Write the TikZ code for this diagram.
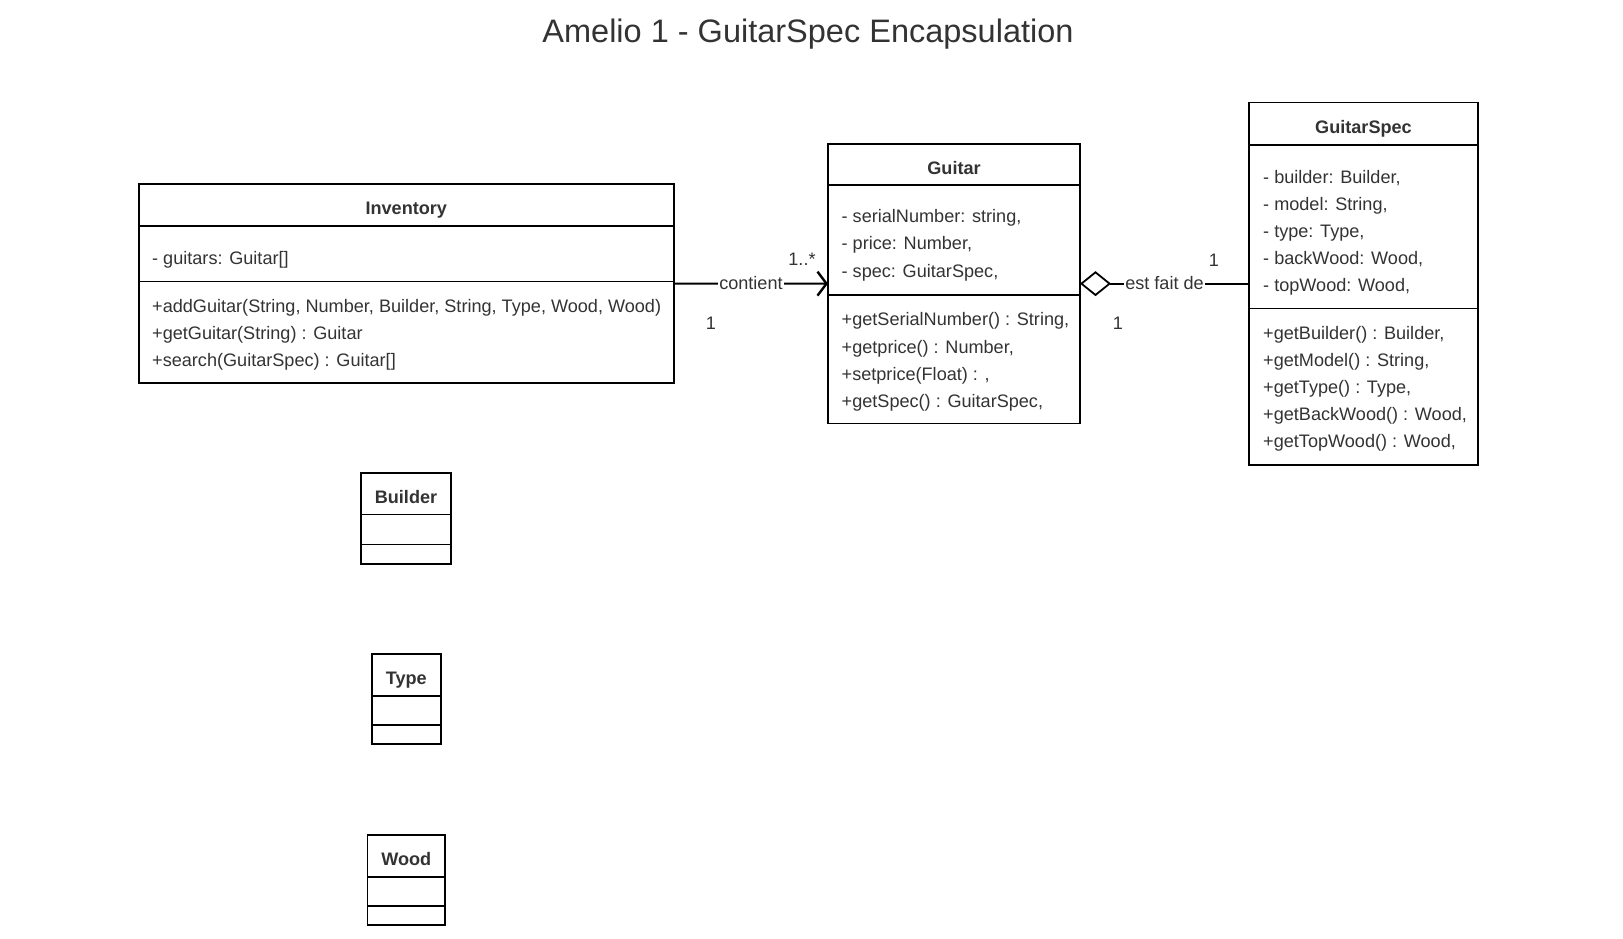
\documentclass[tikz,border=0pt]{standalone}
\usepackage{fontspec}
\setmainfont{Liberation Sans}
\usetikzlibrary{arrows.meta}
\definecolor{txt}{HTML}{333333}
\tikzset{
  classbox/.style={draw=black, line width=1.8pt, inner sep=0pt, outer sep=0pt, fill=white},
  sepline/.style={draw=black, line width=1.8pt},
  ln/.style={anchor=west, inner sep=0pt, yshift=-1.8pt, text=txt, font=\fontsize{18.1}{21}\selectfont, text height=13pt, text depth=1.6pt},
  hd/.style={anchor=center, inner sep=0pt, yshift=-1.8pt, text=txt, font=\fontsize{18.1}{21}\selectfont\bfseries, text height=13pt, text depth=1.6pt},
  mult/.style={anchor=center, inner sep=0pt, yshift=-1.8pt, text=txt, font=\fontsize{18.1}{21}\selectfont, text height=13pt, text depth=1.6pt},
  lbl/.style={anchor=center, inner sep=1pt, fill=white, text=txt, font=\fontsize{18.1}{21}\selectfont, text height=13pt, text depth=1.6pt},
  conn/.style={draw=black, line width=1.8pt},
}
\begin{document}
\begin{tikzpicture}[x=1pt, y=-1pt]
\useasboundingbox (0,0) rectangle (1623,939);
\fill[white] (0,0) rectangle (1623,939);

% title
\node[anchor=center, inner sep=0pt, text=txt, font=\fontsize{32.5}{38}\selectfont] (title) at (808,34) {Amelio 1 - GuitarSpec Encapsulation};

% Inventory
\node[classbox, minimum width=535.2pt, minimum height=198.8pt] (inv) at (406.3,283.6) {};
\draw[sepline] (inv.west |- 0,225.6) -- (inv.east |- 0,225.6);
\draw[sepline] (inv.west |- 0,281.5) -- (inv.east |- 0,281.5);
\node[hd] (invh) at (406.3,207) {Inventory};
\node[ln] (inva1) at (152,256.7) {- guitars: Guitar[]};
\node[ln] (invm1) at (152,305.4) {+addGuitar(String, Number, Builder, String, Type, Wood, Wood)};
\node[ln] (invm2) at (152,332.3) {+getGuitar(String) : Guitar};
\node[ln] (invm3) at (152,359.2) {+search(GuitarSpec) : Guitar[]};

% Guitar
\node[classbox, minimum width=252pt, minimum height=279.5pt] (guitar) at (954,283.65) {};
\draw[sepline] (guitar.west |- 0,185.3) -- (guitar.east |- 0,185.3);
\draw[sepline] (guitar.west |- 0,295) -- (guitar.east |- 0,295);
\node[hd] (guitarh) at (954,166.6) {Guitar};
\node[ln] (ga1) at (841.5,215.3) {- serialNumber: string,};
\node[ln] (ga2) at (841.5,242.2) {- price: Number,};
\node[ln] (ga3) at (841.5,270.2) {- spec: GuitarSpec,};
\node[ln] (gm1) at (841.5,317.8) {+getSerialNumber() : String,};
\node[ln] (gm2) at (841.5,345.7) {+getprice() : Number,};
\node[ln] (gm3) at (841.5,372.6) {+setprice(Float) : ,};
\node[ln] (gm4) at (841.5,399.5) {+getSpec() : GuitarSpec,};

% GuitarSpec
\node[classbox, minimum width=229pt, minimum height=362.3pt] (spec) at (1363.5,283.65) {};
\draw[sepline] (spec.west |- 0,145) -- (spec.east |- 0,145);
\draw[sepline] (spec.west |- 0,308.5) -- (spec.east |- 0,308.5);
\node[hd] (spech) at (1363.5,126.3) {GuitarSpec};
\node[ln] (sa1) at (1263,176) {- builder: Builder,};
\node[ln] (sa2) at (1263,202.9) {- model: String,};
\node[ln] (sa3) at (1263,229.8) {- type: Type,};
\node[ln] (sa4) at (1263,256.7) {- backWood: Wood,};
\node[ln] (sa5) at (1263,283.6) {- topWood: Wood,};
\node[ln] (sm1) at (1263,332.3) {+getBuilder() : Builder,};
\node[ln] (sm2) at (1263,359.2) {+getModel() : String,};
\node[ln] (sm3) at (1263,386.1) {+getType() : Type,};
\node[ln] (sm4) at (1263,413) {+getBackWood() : Wood,};
\node[ln] (sm5) at (1263,439.9) {+getTopWood() : Wood,};

% Builder
\node[classbox, minimum width=90pt, minimum height=91pt] (builder) at (406,518.5) {};
\draw[sepline] (builder.west |- 0,514.4) -- (builder.east |- 0,514.4);
\draw[sepline] (builder.west |- 0,544.5) -- (builder.east |- 0,544.5);
\node[hd] (builderh) at (406,495.8) {Builder};

% Type
\node[classbox, minimum width=69.4pt, minimum height=90pt] (type) at (406.3,699) {};
\draw[sepline] (type.west |- 0,695.6) -- (type.east |- 0,695.6);
\draw[sepline] (type.west |- 0,724.6) -- (type.east |- 0,724.6);
\node[hd] (typeh) at (406.3,677) {Type};

% Wood
\node[classbox, minimum width=77.5pt, minimum height=90pt] (wood) at (406.25,880) {};
\draw[sepline] (wood.west |- 0,876.7) -- (wood.east |- 0,876.7);
\draw[sepline] (wood.west |- 0,905.7) -- (wood.east |- 0,905.7);
\node[hd] (woodh) at (406.25,858) {Wood};

% connectors
\draw[conn, -{Straight Barb[length=9pt, width=24pt, line width=2.4pt]}] (inv.east) -- node[lbl] (c1) {contient} (guitar.west);
\node[mult] (m1a) at (802,258) {1..*};
\node[mult] (m1b) at (711,322) {1};

\draw[conn, {Diamond[open, length=31pt, width=25pt, line width=1.8pt]}-] (guitar.east) -- node[lbl] (c2) {est fait de} (spec.west);
\node[mult] (m2a) at (1214,259) {1};
\node[mult] (m2b) at (1118,322) {1};
\end{tikzpicture}
\end{document}
